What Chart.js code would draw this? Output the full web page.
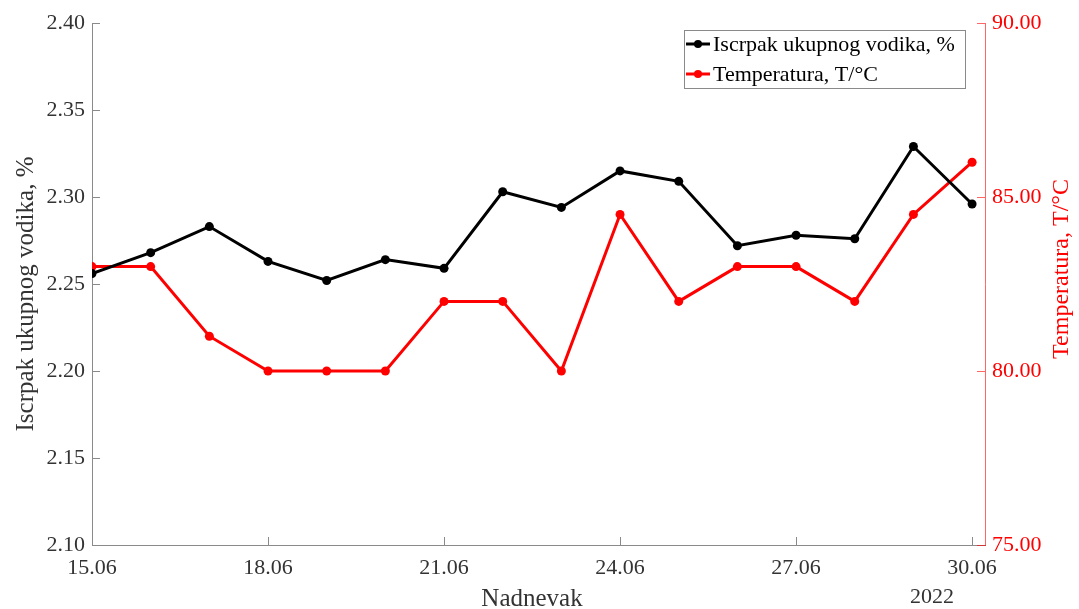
<!DOCTYPE html>
<html>
<head>
<meta charset="utf-8">
<script src="https://cdn.jsdelivr.net/npm/chart.js@4.4.0/dist/chart.umd.min.js"></script>
<style>
  html, body { margin: 0; padding: 0; background: #fff; }
  #wrap { width: 1079px; height: 609px; }
</style>
</head>
<body>
<div id="wrap"><canvas id="chart" width="1079" height="609"></canvas></div>
<script>
// --- data ---
const days = ['15.06', '16.06', '17.06', '18.06', '19.06', '20.06', '21.06', '22.06',
              '23.06', '24.06', '25.06', '26.06', '27.06', '28.06', '29.06', '30.06'];
const hydrogen = [2.256, 2.268, 2.283, 2.263, 2.252, 2.264, 2.259, 2.303,
                  2.294, 2.315, 2.309, 2.272, 2.278, 2.276, 2.329, 2.296];
const temperature = [83, 83, 81, 80, 80, 80, 82, 82,
                     80, 84.5, 82, 83, 83, 82, 84.5, 86];
const dayTicks = [0, 3, 6, 9, 12, 15];
const leftTicks = [2.10, 2.15, 2.20, 2.25, 2.30, 2.35, 2.40];
const rightTicks = [75, 80, 85, 90];

const serif = '"Liberation Serif", "DejaVu Serif", serif';
const GREY = '#8a8a8a';
const RED = '#ff0000';
const RED_AXIS = 'rgba(255, 0, 0, 0.6)';
const TEXT = '#333333';

// inward tick marks, legend box, rotated titles and the year note
const decorations = {
    id: 'decorations',
    afterDraw(chart) {
        const ctx = chart.ctx;
        const { x, y, y1 } = chart.scales;
        const area = chart.chartArea;
        ctx.save();
        ctx.lineWidth = 1;

        // ticks pointing into the plot
        ctx.strokeStyle = GREY;
        dayTicks.forEach(v => {
            const px = Math.round(x.getPixelForValue(v)) + 0.5;
            ctx.beginPath(); ctx.moveTo(px, area.bottom); ctx.lineTo(px, area.bottom - 8); ctx.stroke();
        });
        leftTicks.forEach(v => {
            const py = Math.round(y.getPixelForValue(v)) + 0.5;
            ctx.beginPath(); ctx.moveTo(area.left, py); ctx.lineTo(area.left + 8, py); ctx.stroke();
        });
        ctx.strokeStyle = RED_AXIS;
        rightTicks.forEach(v => {
            const py = Math.round(y1.getPixelForValue(v)) + 0.5;
            ctx.beginPath(); ctx.moveTo(area.right, py); ctx.lineTo(area.right - 8, py); ctx.stroke();
        });

        // legend
        ctx.strokeStyle = GREY;
        ctx.fillStyle = '#fff';
        ctx.fillRect(684, 30, 282, 59);
        ctx.strokeRect(684.5, 30.5, 281, 58);
        ctx.font = '22px ' + serif;
        ctx.textBaseline = 'middle';
        ctx.textAlign = 'left';
        chart.data.datasets.forEach((ds, i) => {
            const ly = 44 + i * 30;
            ctx.strokeStyle = ds.borderColor;
            ctx.lineWidth = 3;
            ctx.beginPath(); ctx.moveTo(686, ly); ctx.lineTo(710, ly); ctx.stroke();
            ctx.fillStyle = ds.borderColor;
            ctx.beginPath(); ctx.arc(698, ly, 4, 0, Math.PI * 2); ctx.fill();
            ctx.fillStyle = '#000';
            ctx.fillText(ds.label, 713, ly + 1);
        });

        // axis titles
        ctx.textAlign = 'center';
        ctx.textBaseline = 'alphabetic';
        ctx.font = '25px ' + serif;
        ctx.fillStyle = TEXT;
        ctx.fillText('Nadnevak', 532, 606);

        ctx.save();
        ctx.translate(33, 294);
        ctx.rotate(-Math.PI / 2);
        ctx.fillText('Iscrpak ukupnog vodika, %', 0, 0);
        ctx.restore();

        ctx.save();
        ctx.font = '24px ' + serif;
        ctx.fillStyle = RED;
        ctx.translate(1068, 269);
        ctx.rotate(-Math.PI / 2);
        ctx.fillText('Temperatura, T/\u00B0C', 0, 0);
        ctx.restore();

        // year note under the last date
        ctx.font = '22px ' + serif;
        ctx.fillStyle = TEXT;
        ctx.fillText('2022', 932, 603);
        ctx.restore();
    }
};

new Chart(document.getElementById('chart'), {
    type: 'line',
    data: {
        datasets: [{
            label: 'Iscrpak ukupnog vodika, %',
            data: hydrogen.map((v, i) => ({ x: i, y: v })),
            borderColor: '#000000',
            backgroundColor: '#000000',
            borderWidth: 3,
            pointRadius: 4.5,
            pointBackgroundColor: '#000000',
            pointBorderWidth: 0,
            tension: 0,
            yAxisID: 'y'
        }, {
            label: 'Temperatura, T/\u00B0C',
            data: temperature.map((v, i) => ({ x: i, y: v })),
            borderColor: RED,
            backgroundColor: RED,
            borderWidth: 3,
            pointRadius: 4.5,
            pointBackgroundColor: RED,
            pointBorderWidth: 0,
            tension: 0,
            yAxisID: 'y1'
        }]
    },
    options: {
        responsive: false,
        animation: false,
        devicePixelRatio: 1,
        layout: { padding: { top: 23, left: 0, right: 0, bottom: 0 } },
        plugins: {
            legend: { display: false },
            tooltip: { enabled: false }
        },
        scales: {
            x: {
                type: 'linear',
                min: 0,
                max: 15.22,
                afterBuildTicks: axis => { axis.ticks = dayTicks.map(v => ({ value: v })); },
                afterFit: axis => { axis.height = 64; },
                grid: { display: false, drawTicks: false },
                border: { display: true, color: GREY, width: 1 },
                ticks: {
                    autoSkip: false,
                    maxRotation: 0,
                    padding: 10,
                    color: TEXT,
                    font: { family: serif, size: 22 },
                    callback: v => days[v]
                }
            },
            y: {
                position: 'left',
                min: 2.10,
                max: 2.40,
                afterBuildTicks: axis => { axis.ticks = leftTicks.map(v => ({ value: v })); },
                afterFit: axis => { axis.width = 92; },
                grid: { display: false, drawTicks: false },
                border: { display: true, color: GREY, width: 1 },
                ticks: {
                    padding: 7,
                    color: TEXT,
                    font: { family: serif, size: 22 },
                    callback: v => v.toFixed(2)
                }
            },
            y1: {
                position: 'right',
                min: 75,
                max: 90,
                afterBuildTicks: axis => { axis.ticks = rightTicks.map(v => ({ value: v })); },
                afterFit: axis => { axis.width = 94; },
                grid: { display: false, drawTicks: false },
                border: { display: true, color: RED_AXIS, width: 1 },
                ticks: {
                    padding: 7,
                    color: RED,
                    font: { family: serif, size: 22 },
                    callback: v => v.toFixed(2)
                }
            }
        }
    },
    plugins: [decorations]
});
</script>
</body>
</html>
